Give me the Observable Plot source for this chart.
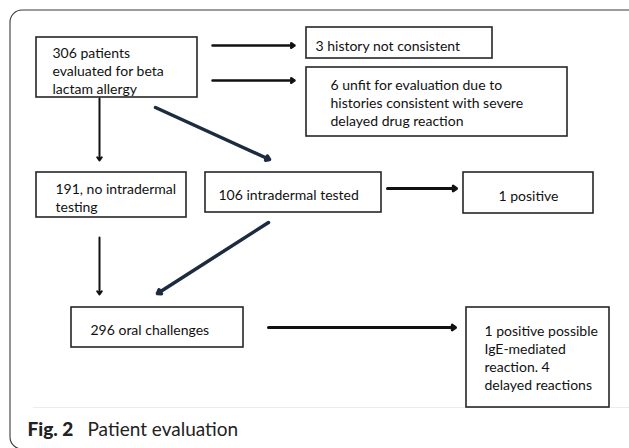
<!DOCTYPE html>
<html>
<head>
<meta charset="utf-8">
<script src="https://cdn.jsdelivr.net/npm/d3@7"></script>
<script src="https://cdn.jsdelivr.net/npm/@observablehq/plot@0.6"></script>
<style>
  html, body { margin: 0; padding: 0; background: #fff; }
  #chart svg { display: block; }
</style>
</head>
<body>
<div id="chart"></div>
<script>
// ---- Chart content (flowchart labels) ----
const boxLabels = [
  "306 patients\nevaluated for beta\nlactam allergy",
  "3 history not consistent",
  "6 unfit for evaluation due to\nhistories consistent with severe\ndelayed drug reaction",
  "191, no intradermal\ntesting",
  "106 intradermal tested",
  "1 positive",
  "296 oral challenges",
  "1 positive possible\nIgE-mediated\nreaction. 4\ndelayed reactions"
];
// flow links: [from box index, to box index]
const flows = [[0, 1], [0, 2], [0, 3], [0, 4], [4, 5], [4, 6], [3, 6], [6, 7]];
const captionBold = "Fig. 2";
const captionText = "Patient evaluation";

// ---- Layout table (diagram geometry in pixel units) ----
const boxLayout = [
  {x1: 36,  y1: 37,  x2: 197, y2: 97,  tx: 52,  ty: 55,  anchor: "start"},
  {x1: 306, y1: 27,  x2: 492, y2: 58,  tx: 315, ty: 48,  anchor: "start"},
  {x1: 306, y1: 67,  x2: 567, y2: 136, tx: 330, ty: 87,  anchor: "start"},
  {x1: 36,  y1: 172, x2: 186, y2: 217, tx: 55,  ty: 191, anchor: "start"},
  {x1: 205, y1: 172, x2: 381, y2: 212, tx: 218, ty: 197, anchor: "start"},
  {x1: 463, y1: 172, x2: 593, y2: 213, tx: 528, ty: 198, anchor: "middle"},
  {x1: 71,  y1: 307, x2: 243, y2: 347, tx: 90,  ty: 332, anchor: "start"},
  {x1: 466, y1: 307, x2: 609, y2: 407, tx: 484, ty: 333, anchor: "start"}
];
const arrowLayout = [
  {x1: 212, y1: 45,  x2: 294, y2: 45,  color: "#111", w: 2.5},
  {x1: 212, y1: 80,  x2: 294, y2: 80,  color: "#111", w: 2.5},
  {x1: 99,  y1: 98,  x2: 99,  y2: 160, color: "#111", w: 2},
  {x1: 155, y1: 107, x2: 269, y2: 159, color: "#1d2b40", w: 3.5},
  {x1: 387, y1: 188, x2: 456, y2: 188, color: "#111", w: 3},
  {x1: 268, y1: 222, x2: 157, y2: 293, color: "#1d2b40", w: 3.5},
  {x1: 99,  y1: 237, x2: 99,  y2: 294, color: "#111", w: 2},
  {x1: 268, y1: 327, x2: 455, y2: 327, color: "#111", w: 3}
];

const FS = 14;
const boxes = boxLabels.map((label, i) => ({label, ...boxLayout[i], ty0: boxLayout[i].ty - 0.71 * FS}));
const arrows = flows.map(([a, b], i) => ({from: a, to: b, ...arrowLayout[i]}));

const textOpts = {x: "tx", y: "ty0", text: "label", lineAnchor: "top", lineHeight: 1.27, fontSize: FS, fill: "#111"};

const chart = Plot.plot({
  width: 629,
  height: 448,
  margin: 0,
  x: {domain: [0, 629], range: [0, 629], axis: null},
  y: {domain: [0, 448], range: [0, 448], axis: null},
  style: {background: "#fff", fontFamily: "Lato, 'Open Sans', sans-serif", overflow: "hidden"},
  marks: [
    // outer rounded frame (extends past right edge)
    Plot.rect([0], {x1: 10, x2: 660, y1: 10, y2: 449, rx: 12, fill: "none", stroke: "#3a3a3a", strokeWidth: 1.1}),
    // faint edge of the figure image
    Plot.ruleY([407], {x1: 33, x2: 629, stroke: "#ececec", strokeWidth: 1}),
    Plot.rect(boxes, {x1: "x1", x2: "x2", y1: "y1", y2: "y2", fill: "#fff", stroke: "#262626", strokeWidth: 1.6}),
    Plot.text(boxes.filter(d => d.anchor === "start"), {...textOpts, textAnchor: "start"}),
    Plot.text(boxes.filter(d => d.anchor === "middle"), {...textOpts, textAnchor: "middle"}),
    Plot.arrow(arrows, {
      x1: "x1", y1: "y1", x2: "x2", y2: "y2",
      stroke: "color", strokeWidth: "w", headLength: 6, headAngle: 70
    }),
    Plot.text([captionBold], {
      x: 27, y: 435, text: (d) => d, textAnchor: "start", lineAnchor: "bottom",
      fontSize: 19, fontWeight: 900, fill: "#222"
    }),
    Plot.text([captionText], {
      x: 87, y: 435, text: (d) => d, textAnchor: "start", lineAnchor: "bottom",
      fontSize: 19, fontWeight: "normal", fill: "#222"
    })
  ]
});
document.getElementById("chart").append(chart);
</script>
</body>
</html>
